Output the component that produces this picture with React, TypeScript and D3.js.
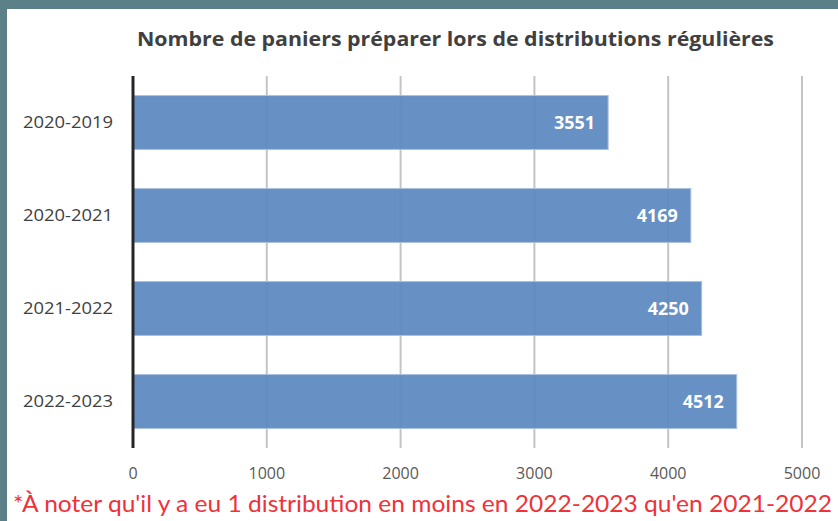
import React from 'react'
import * as d3 from 'd3'

const categories = ['2020-2019', '2020-2021', '2021-2022', '2022-2023']
const values = [3551, 4169, 4250, 4512]
const ticks = [0, 1000, 2000, 3000, 4000, 5000]
const title = 'Nombre de paniers préparer lors de distributions régulières'
const note = "*À noter qu'il y a eu 1 distribution en moins en 2022-2023 qu'en 2021-2022"

const W = 838
const H = 521

const App = () => {
    const x = d3.scaleLinear().domain([0, 5000]).range([133, 802])
    const y = d3.scaleBand<string>()
        .domain(categories)
        .range([76, 448])
        .paddingInner(0.42)
        .paddingOuter(0.21)

    const font = '"Open Sans", "Liberation Sans", sans-serif'

    return (
        <div style={{position: 'fixed', left: 0, top: 0}}>
            <svg width={W} height={H} viewBox={`0 0 ${W} ${H}`} style={{display: 'block'}}>
                <rect x={0} y={0} width={W} height={H} fill="#fff" />
                <rect x={0} y={0} width={W} height={9} fill="#5b8087" />
                <rect x={0} y={0} width={7} height={H} fill="#5b8087" />

                <text x={455.5} y={46} textAnchor="middle" fontFamily={font} fontWeight="bold"
                      fontSize={20} fill="#404040" textLength={637} lengthAdjust="spacingAndGlyphs">
                    {title}
                </text>

                {ticks.slice(1).map(t => (
                    <line key={t} x1={x(t)} x2={x(t)} y1={76} y2={448} stroke="#c4c4c4" strokeWidth={2} />
                ))}

                {categories.map((c, i) => (
                    <g key={c}>
                        <rect x={x(0)} y={y(c)} width={x(values[i]) - x(0)} height={y.bandwidth()}
                              fill="#5a87c0" fillOpacity={0.92} stroke="#a9c0de" strokeWidth={1} />
                        <text x={x(values[i]) - 13} y={(y(c) as number) + y.bandwidth() / 2 + 6.5}
                              textAnchor="end" fontFamily={font} fontWeight="bold" fontSize={18}
                              fill="#fff" textLength={41} lengthAdjust="spacingAndGlyphs">
                            {values[i]}
                        </text>
                        <text x={113} y={(y(c) as number) + y.bandwidth() / 2 + 5}
                              textAnchor="end" fontFamily={font} fontSize={17} fill="#404040"
                              textLength={90} lengthAdjust="spacingAndGlyphs">
                            {c}
                        </text>
                    </g>
                ))}

                <line x1={x(0)} x2={x(0)} y1={76} y2={448} stroke="#262626" strokeWidth={3} />

                {ticks.map(t => (
                    <text key={t} x={x(t)} y={479} textAnchor="middle" fontFamily={font}
                          fontSize={16} fill="#595959">
                        {t}
                    </text>
                ))}

                <text x={13} y={512} fontFamily="Lato, 'Open Sans', sans-serif" fontSize={24}
                      fill="#f0313a" textLength={819} lengthAdjust="spacingAndGlyphs">
                    {note}
                </text>
            </svg>
        </div>
    )
}

export default App
